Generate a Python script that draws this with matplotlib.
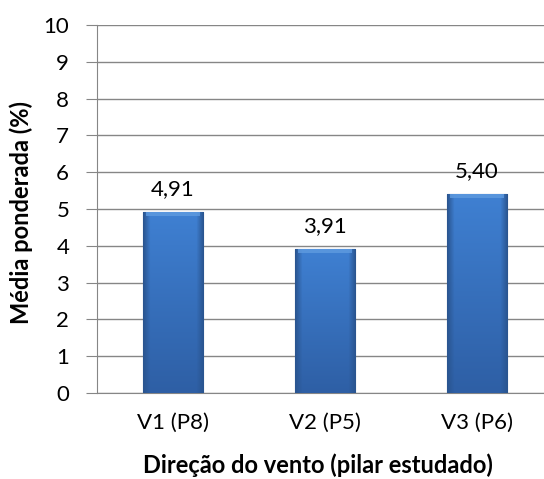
import numpy as np
import matplotlib.pyplot as plt

categorias = ['V1 (P8)', 'V2 (P5)', 'V3 (P6)']
valores = [4.91, 3.91, 5.40]
rotulos = ['4,91', '3,91', '5,40']

plt.rcParams['font.family'] = ['Lato', 'DejaVu Sans']

fig = plt.figure(figsize=(5.44, 4.79), dpi=100)
ax = fig.add_axes([97/544, (479-393)/479, 456/544, (393-25)/479])

x = np.arange(len(categorias))
bars = ax.bar(x, valores, width=0.4, color='#3a74c2', edgecolor='#2a5590', linewidth=0.8, zorder=3)

# gradiente estilo Excel: bordas laterais escuras, centro mais claro, base mais escura
hx = np.linspace(0, 1, 60)
lado = np.clip(np.minimum(hx, 1 - hx) / 0.12, 0, 1)
vy = np.linspace(0, 1, 100)[:, None]
cor_topo = np.array([0x3f, 0x80, 0xd2]) / 255
cor_base = np.array([0x2e, 0x5f, 0xa5]) / 255
borda = np.array([0x2a, 0x55, 0x90]) / 255
for b in bars:
    x0, w, h = b.get_x(), b.get_width(), b.get_height()
    centro = cor_topo * (1 - vy[..., None]) + cor_base * vy[..., None]
    img = borda * (1 - lado[None, :, None]) + centro * lado[None, :, None]
    im = ax.imshow(img, extent=[x0, x0 + w, 0, h], aspect='auto', zorder=3.5, origin='upper')
    im.set_clip_path(b)
    ax.fill_between([x0 + 0.02, x0 + w - 0.02], h - 0.1, h, color='#5f9be0', alpha=0.8, zorder=4, linewidth=0)

for xi, v, r in zip(x, valores, rotulos):
    ax.text(xi, v + 0.35, r, ha='center', va='bottom', fontsize=16)

ax.set_xlim(-0.5, 2.5)
ax.set_ylim(0, 10)
ax.set_yticks(range(0, 11))
ax.set_xticks(x)
ax.set_xticklabels(categorias)
ax.tick_params(axis='y', labelsize=16, length=8, color='#868686', pad=12)
ax.tick_params(axis='x', labelsize=16, length=0, pad=14)
ax.grid(axis='y', color='#868686', linewidth=1, zorder=0)
for s in ['top', 'right']:
    ax.spines[s].set_visible(False)
ax.spines['left'].set_color('#868686')
ax.spines['bottom'].set_color('#868686')
ax.set_axisbelow(True)

ax.set_ylabel('Média ponderada (%)', fontsize=17, fontweight='bold')
ax.set_xlabel('Direção do vento (pilar estudado)', fontsize=17, fontweight='bold')
ax.yaxis.set_label_coords(-64/456, 0.49)
ax.xaxis.set_label_coords(0.485, -60/368)

fig.savefig('out.png', dpi=100)
